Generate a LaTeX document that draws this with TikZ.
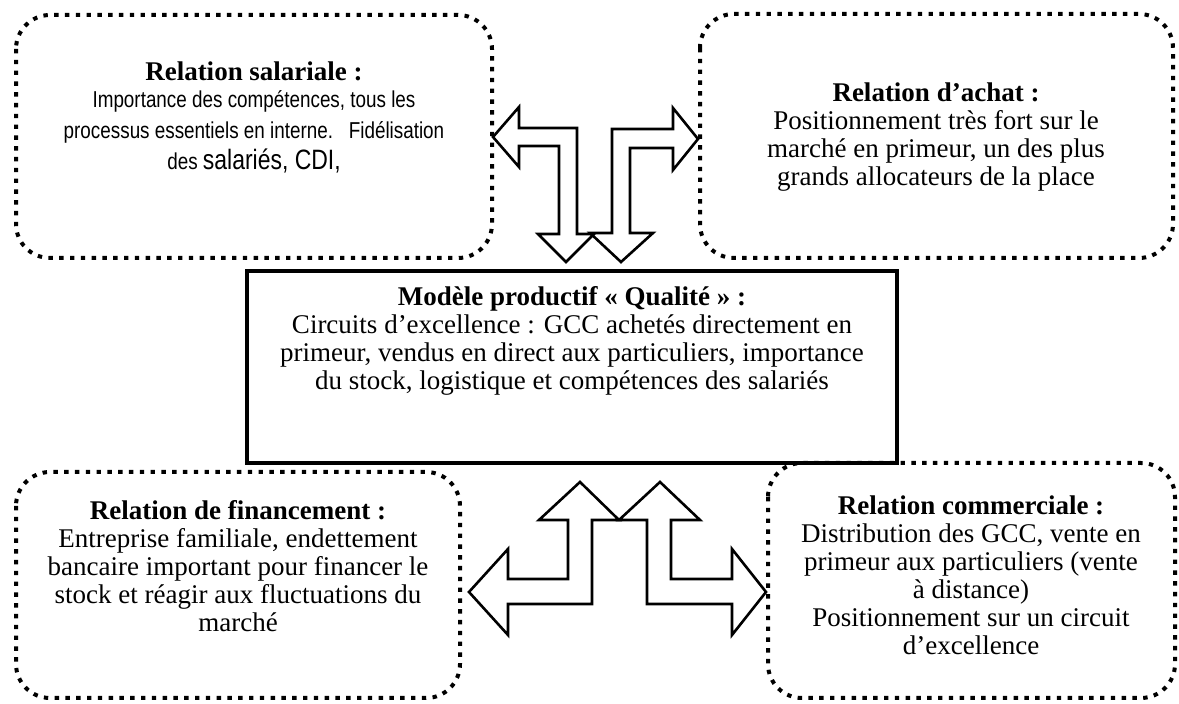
\documentclass[tikz,border=0pt]{standalone}
\usepackage{fontspec}
\setmainfont{Liberation Serif}
\newfontfamily\narrowsans[FakeStretch=0.82]{Liberation Sans}
\newcommand{\agency}{\narrowsans\fontsize{11.5}{13.5}\selectfont}

\begin{document}
\begin{tikzpicture}[x=0.5pt, y=-0.5pt, line join=miter,
    dotbox/.style={line width=2pt, dash pattern=on 2.2pt off 3.2pt, rounded corners=17pt},
    mainbox/.style={line width=1.6pt},
    blockarrow/.style={line width=1.3pt, fill=white},
    boxtext/.style={align=center, inner sep=0pt, font=\fontsize{13.5}{14}\selectfont}]

    \useasboundingbox (0,0) rectangle (1179,704);

    % 1. Les quatre relations (cadres en pointillés)
    \draw[dotbox] (16,15) rectangle (492,258);
    \draw[dotbox] (700,14) rectangle (1173,258);
    \draw[dotbox] (16,472) rectangle (460,698);
    \draw[dotbox] (768,463) rectangle (1175,698);

    % 2. Le modèle productif au centre
    \draw[mainbox] (247,271) rectangle (897,463);

    % 3. Flèches doubles du haut
    \draw[blockarrow] (698,139) -- (673,108) -- (673,129) -- (612,129) -- (612,233)
        -- (590,233) -- (621,262) -- (653,233) -- (630,233) -- (630,148)
        -- (673,148) -- (673,170) -- cycle;
    \draw[blockarrow] (493,137) -- (519,107) -- (519,128) -- (577,128) -- (577,234)
        -- (594,234) -- (566,262) -- (538,234) -- (559,234) -- (559,146)
        -- (519,146) -- (519,167) -- cycle;

    % 4. Flèches doubles du bas
    \draw[blockarrow] (580,482) -- (619,520) -- (592,520) -- (592,604) -- (508,604)
        -- (508,635) -- (469,592) -- (508,549) -- (508,579) -- (568,579)
        -- (568,520) -- (539,520) -- cycle;
    \draw[blockarrow] (660,482) -- (700,520) -- (671,520) -- (671,579) -- (732,579)
        -- (732,549) -- (766,592) -- (732,635) -- (732,604) -- (647,604)
        -- (647,520) -- (619,520) -- cycle;

    % 5. Textes
    \node[boxtext, font=\agency] (salariale) at (254,117)
        {{\rmfamily\bfseries\fontsize{13.5}{14}\selectfont Relation salariale :}\\
        Importance des compétences, tous les\\[2pt]
        processus essentiels en interne.~~~Fidélisation\\[2pt]
        des {\fontsize{14}{14}\selectfont salariés, CDI,}};
    \node[boxtext] (achat) at (936,137) {\textbf{Relation d’achat :}\\
        Positionnement très fort sur le\\
        marché en primeur, un des plus\\
        grands allocateurs de la place};
    \node[boxtext] (productif) at (572,341) {\textbf{Modèle productif « Qualité » :}\\
        Circuits d’excellence : GCC achetés directement en\\
        primeur, vendus en direct aux particuliers, importance\\
        du stock, logistique et compétences des salariés};
    \node[boxtext] (financement) at (238,566) {\textbf{Relation de financement :}\\
        Entreprise familiale, endettement\\
        bancaire important pour financer le\\
        stock et réagir aux fluctuations du\\
        marché};
    \node[boxtext] (commerciale) at (971,575) {\textbf{Relation commerciale :}\\
        Distribution des GCC, vente en\\
        primeur aux particuliers (vente\\
        à distance)\\
        Positionnement sur un circuit\\
        d’excellence};

\end{tikzpicture}
\end{document}
